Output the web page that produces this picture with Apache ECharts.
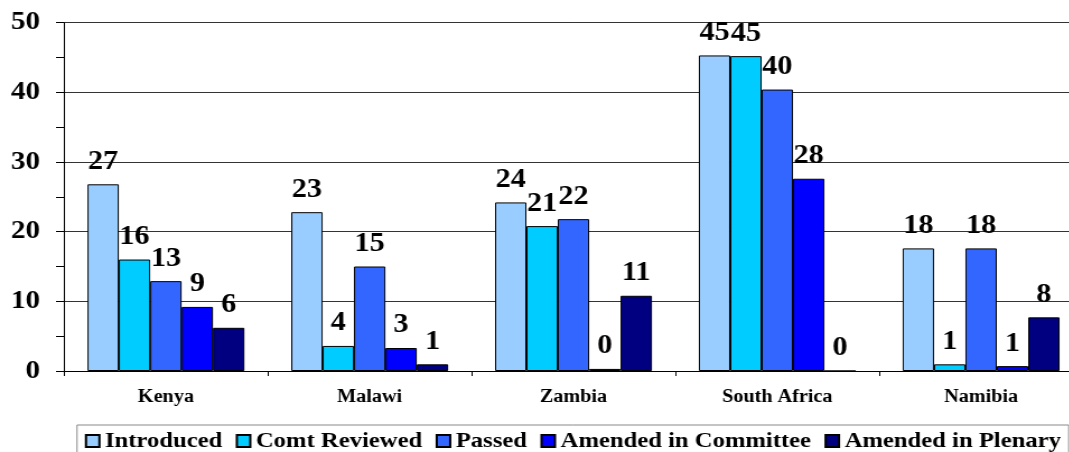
<!DOCTYPE html>
<html>
<head>
<meta charset="utf-8">
<script src="https://cdn.jsdelivr.net/npm/echarts@6/dist/echarts.min.js"></script>
<style>
html,body{margin:0;padding:0;background:#fff;overflow:hidden;}
#wrap{width:1069px;height:452px;overflow:hidden;position:relative;}
#chart{width:982px;height:452px;transform:scaleX(1.12);transform-origin:0 0;}
</style>
</head>
<body>
<div id="wrap"><div id="chart"></div></div>
<script>
const categories = ['Kenya', 'Malawi', 'Zambia', 'South Africa', 'Namibia'];
const seriesNames = ['Introduced', 'Comt Reviewed', 'Passed', 'Amended in Committee', 'Amended in Plenary'];
const introduced = [26.8, 22.8, 24.2, 45.3, 17.6];
const comtReviewed = [16.0, 3.6, 20.8, 45.2, 0.96];
const passed = [12.9, 15.0, 21.8, 40.4, 17.6];
const amendedCommittee = [9.2, 3.3, 0.3, 27.6, 0.7];
const amendedPlenary = [6.2, 0.96, 10.8, 0, 7.7];
const yTicks = [0, 10, 20, 30, 40, 50];
const colors = ['#99CCFF', '#00CCFF', '#3366FF', '#0000FF', '#000080'];

const allData = [introduced, comtReviewed, passed, amendedCommittee, amendedPlenary];
const font = '"Liberation Serif", "Times New Roman", serif';
const S = 1.12; // horizontal stretch of the reference image
const W = 982;  // chart canvas width (wider than the visible window; clipped)

const chart = echarts.init(document.getElementById('chart'), null, {renderer: 'canvas', width: W, height: 452});
chart.setOption({
  animation: false,
  backgroundColor: '#fff',
  grid: {left: 64 / S, right: W - 1083 / S, top: 22.7, bottom: 81, containLabel: false},
  legend: {
    left: 77 / S, top: 425,
    padding: [5, 7, 10, 7],
    borderColor: '#888', borderWidth: 1,
    itemWidth: 12, itemHeight: 12, itemGap: 12,
    icon: 'rect',
    textStyle: {fontFamily: font, fontWeight: 'bold', fontSize: 22, color: '#000'},
    data: seriesNames
  },
  xAxis: {
    type: 'category',
    data: categories,
    axisLine: {lineStyle: {color: '#000', width: 1}},
    axisTick: {show: true, length: 5, lineStyle: {color: '#000'}},
    axisLabel: {fontFamily: font, fontWeight: 'bold', fontSize: 18, color: '#000', margin: 17}
  },
  yAxis: {
    type: 'value',
    min: yTicks[0], max: yTicks[yTicks.length - 1], interval: 10,
    axisLine: {show: true, lineStyle: {color: '#000', width: 1}},
    axisTick: {show: true, length: 8 / S, lineStyle: {color: '#000'}},
    minorTick: {show: true, splitNumber: 2, length: 8 / S, lineStyle: {color: '#000'}},
    splitLine: {show: true, lineStyle: {color: '#333', width: 1}},
    axisLabel: {fontFamily: font, fontWeight: 'bold', fontSize: 26, color: '#000', margin: 24 / S}
  },
  series: seriesNames.map((name, i) => ({
    name: name,
    type: 'bar',
    data: allData[i],
    barGap: '0%',
    barCategoryGap: '23%',
    itemStyle: {color: colors[i], borderColor: '#000', borderWidth: 1},
    label: {
      show: true, position: 'top', distance: 9,
      fontFamily: font, fontWeight: 'bold', fontSize: 27, color: '#000',
      formatter: p => String(Math.round(p.value))
    }
  }))
});
</script>
</body>
</html>
